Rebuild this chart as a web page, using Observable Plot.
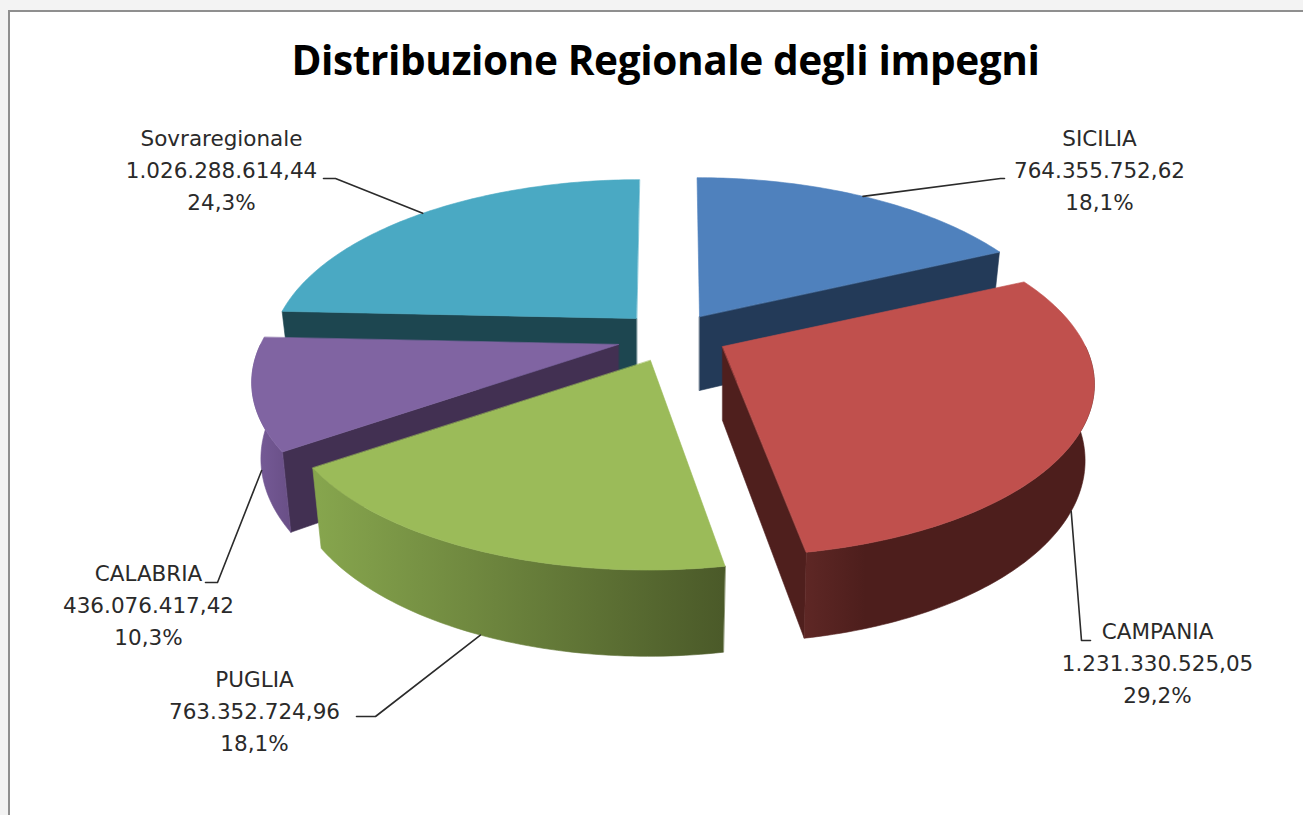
<!DOCTYPE html>
<html lang="it">
<head>
<meta charset="utf-8">
<script src="https://cdn.jsdelivr.net/npm/d3@7"></script>
<script src="https://cdn.jsdelivr.net/npm/@observablehq/plot@0.6"></script>
<style>
  html, body { margin: 0; height: 100%; overflow: hidden; background: #f3f3f3; }
  #frame { position: absolute; left: 8px; top: 10px; width: 1295px; height: 805px; box-sizing: border-box;
           border-left: 2px solid #8f8f8f; border-top: 2px solid #8f8f8f; background: #fff; overflow: hidden; }
  #title { height: 88px; margin: 0; text-align: center; white-space: nowrap;
           font: bold 40.6px/96px "Open Sans", sans-serif; color: #000; width: 1311px; letter-spacing: -0.4px; }
  svg { display: block; }
</style>
</head>
<body>
<div id="frame"><h1 id="title">Distribuzione Regionale degli impegni</h1><div id="chart"></div></div>
<script>
// ---- data ----
const regions = ["SICILIA", "CAMPANIA", "PUGLIA", "CALABRIA", "Sovraregionale"];
const amounts = [764355752.62, 1231330525.05, 763352724.96, 436076417.42, 1026288614.44];

// ---- styles ----
const topColors  = ["#4f81bd", "#c0504d", "#9bbb59", "#8064a2", "#4aa9c3"];
const sideColors = ["#233a58", "#4f1f1d", "#4e5c2b", "#423052", "#1d4650"];
const wallStops  = [
  ["#233a58", "#233a58"],
  ["#5e2725", "#4d1e1c"],
  ["#86a54d", "#4b5a29"],
  ["#755a96", "#674d84"],
  ["#1d4650", "#1d4650"]
];

// ---- layout of the exploded 3D pie ----
const apexX = [699, 722, 650, 618, 636];
const apexY = [316, 346, 360, 344, 318];
const radii = [360, 363, 362, 358, 358];
const wallRange = [[0, 0], [805, 865], [318, 722], [258, 295], [0, 0]];
const labelX = [1099, 1157, 254, 148, 221];
const labelY = [167, 660, 708, 602, 167];
const leaderBends = [
  [[1000, 178], [1004, 178]],
  [[1081, 640], [1090, 640]],
  [[375, 716], [356, 716]],
  [[217, 582], [205, 582]],
  [[335, 178], [323, 178]]
];
const drawOrder = [0, 4, 3, 1, 2];
const centerX = 670, Ry = 167, persp = 0.203, depth = 74, depthPersp = 0.65, taper = 0.025, lean = 0.5;

// ---- geometry derived from the values ----
const total = d3.sum(amounts);
const pie = d3.pie().sort(null).value(d => d)(amounts);
const project = (i, a) => {
  const s = Math.sin(a), c = Math.cos(a), f = 1 / (1 + persp * c);
  return {
    x: apexX[i] + radii[i] * s * f + (apexX[i] - centerX) * (f - 1) * lean,
    y: apexY[i] - Ry * c * f,
    f
  };
};
const lower = (i, p) => ({
  x: p.x + (apexX[i] - p.x) * taper,
  y: p.y + depth * (1 + depthPersp * (p.f - 1))
});
const arcPts = (i, a0, a1) => {
  const n = Math.max(2, Math.ceil((a1 - a0) / (Math.PI / 180)));
  return d3.range(n + 1).map(k => project(i, a0 + (a1 - a0) * k / n));
};
const apex = i => ({ x: apexX[i], y: apexY[i], f: 1 });

const poly = (pts, fill) => Plot.line(pts, {
  x: "x", y: "y", curve: "linear-closed", fill, stroke: fill, strokeWidth: 0.6
});

const radialVisible = (i, a, mid) => {
  const o = project(i, a), m = project(i, mid), ax = apexX[i], ay = apexY[i];
  const ex = o.x - ax, ey = o.y - ay;
  if (Math.abs(ex) < Math.abs(ey) * 0.1) return false;
  return m.y < ay + (m.x - ax) * (ey / ex);
};

const marks = [];
for (const i of drawOrder) {
  const { startAngle: a0, endAngle: a1 } = pie[i];
  const mid = (a0 + a1) / 2;
  for (const a of [a0, a1]) {
    if (!radialVisible(i, a, mid)) continue;
    const t = apex(i), o = project(i, a);
    marks.push(poly([t, o, lower(i, o), lower(i, t)], sideColors[i]));
  }
  const w0 = Math.max(a0, Math.PI / 2), w1 = Math.min(a1, Math.PI * 1.5);
  if (w1 > w0) {
    const rim = arcPts(i, w0, w1);
    marks.push(poly([...rim, ...rim.map(p => lower(i, p)).reverse()], `url(#wall${i})`));
  }
  marks.push(poly([apex(i), ...arcPts(i, a0, a1)], topColors[i]));
}

// leader lines start on the rim at each slice's mid angle
const itNum = d3.formatLocale({ decimal: ",", thousands: ".", grouping: [3], currency: ["", ""] });
const fmtAmount = itNum.format(",.2f");
const fmtPct = itNum.format(".1%");
regions.forEach((name, i) => {
  const mid = (pie[i].startAngle + pie[i].endAngle) / 2;
  const p = project(i, mid);
  const start = Math.cos(mid) < 0 ? lower(i, p) : p;
  const pts = [start, ...leaderBends[i].map(([x, y]) => ({ x, y }))];
  marks.push(Plot.line(pts, { x: "x", y: "y", stroke: "#2b2b2b", strokeWidth: 1.6 }));
});

const labels = regions.map((name, i) => ({
  x: labelX[i], y: labelY[i],
  text: `${name}\n${fmtAmount(amounts[i])}\n${fmtPct(amounts[i] / total)}`
}));
marks.push(Plot.text(labels, {
  x: "x", y: "y", text: "text", textAnchor: "middle", lineAnchor: "middle", lineHeight: 1.49,
  fontSize: 21.5, fontFamily: "DejaVu Sans", fill: "#2a2a2a"
}));

const defs = () => {
  const d = d3.create("svg:defs");
  wallStops.forEach(([c0, c1], i) => {
    const g = d.append("linearGradient").attr("id", `wall${i}`)
      .attr("gradientUnits", "userSpaceOnUse")
      .attr("x1", wallRange[i][0] - 10).attr("x2", wallRange[i][1] - 10)
      .attr("y1", 0).attr("y2", 0);
    g.append("stop").attr("offset", 0).attr("stop-color", c0);
    g.append("stop").attr("offset", 1).attr("stop-color", c1);
  });
  return d.node();
};

const chart = Plot.plot({
  width: 1293, height: 715,
  margin: 0,
  style: { background: "#fff", overflow: "hidden" },
  x: { domain: [10, 1303], range: [0, 1293], axis: null },
  y: { domain: [100, 815], range: [0, 715], axis: null },
  marks: [defs, ...marks]
});
document.getElementById("chart").append(chart);
</script>
</body>
</html>
